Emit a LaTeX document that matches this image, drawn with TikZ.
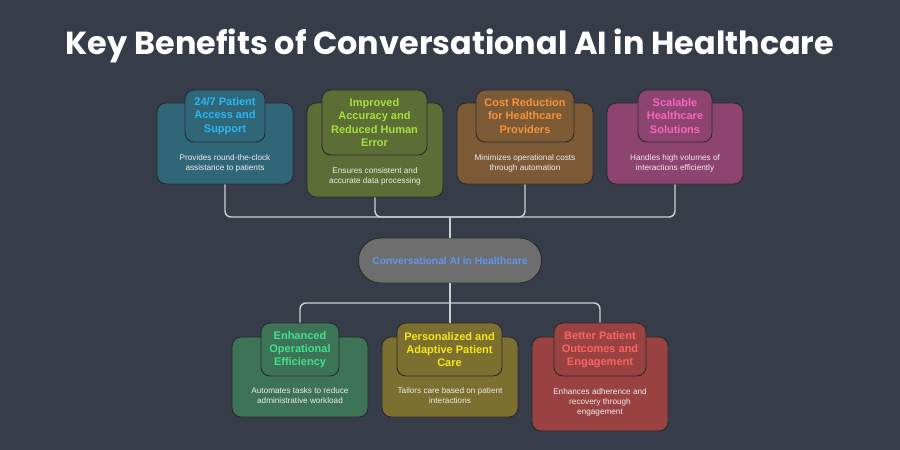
\documentclass[tikz,border=0pt]{standalone}
\usepackage{fontspec}
\setmainfont{Liberation Sans}
\newfontfamily\poppins{Poppins}
\definecolor{bg}{HTML}{373C49}
\definecolor{boxline}{HTML}{2A2A2E}
\definecolor{linecol}{HTML}{CFCFCF}
\definecolor{bodycol}{HTML}{EDEDED}
\definecolor{cA}{HTML}{306778}\definecolor{tA}{HTML}{2AB6F2}
\definecolor{cB}{HTML}{5D6D36}\definecolor{tB}{HTML}{A6E23E}
\definecolor{cC}{HTML}{7D5A36}\definecolor{tC}{HTML}{F6923A}
\definecolor{cD}{HTML}{8E4470}\definecolor{tD}{HTML}{F865BC}
\definecolor{cE}{HTML}{3D7357}\definecolor{tE}{HTML}{42E08E}
\definecolor{cF}{HTML}{7B7030}\definecolor{tF}{HTML}{F6E71C}
\definecolor{cG}{HTML}{9A4242}\definecolor{tG}{HTML}{F86464}
\definecolor{hubfill}{HTML}{6E6E6E}\definecolor{hubtext}{HTML}{5E97EC}
\begin{document}
\begin{tikzpicture}[x=1pt,y=-1pt,
  outerbox/.style={draw=boxline, line width=0.9pt, rounded corners=9pt, minimum width=136pt, inner sep=0pt},
  titlebox/.style={draw=boxline, line width=0.9pt, rounded corners=9pt, inner sep=0pt, align=center, font=\fontsize{11}{13.3}\selectfont\bfseries},
  bodytext/.style={align=center, text=bodycol, inner sep=0pt, font=\fontsize{8.2}{10}\selectfont},
  conn/.style={draw=linecol, line width=1.4pt, rounded corners=6pt}
]
\fill[bg] (0,0) rectangle (900,450);
\useasboundingbox (0,0) rectangle (900,450);

\node[anchor=base, text=white, font=\poppins\bfseries\fontsize{31.9}{36}\selectfont] (title) at (450,54) {Key Benefits of Conversational AI in Healthcare};

% hub
\node[draw=boxline, line width=0.9pt, fill=hubfill, rounded corners=22pt, minimum width=183pt, minimum height=45pt, inner sep=0pt, text=hubtext, font=\fontsize{10.3}{12}\selectfont\bfseries] (hub) at (450,260.5) {Conversational AI in Healthcare};

% top boxes
\node[outerbox, fill=cA, minimum height=81pt] (b1) at (225,143.5) {};
\node[titlebox, fill=cA, text=tA, minimum width=80pt, minimum height=52pt] (t1) at (225,116) {24/7 Patient\\Access and\\Support};
\node[bodytext] (d1) at (225,163) {Provides round-the-clock\\assistance to patients};

\node[outerbox, fill=cB, minimum height=94pt] (b2) at (375,150) {};
\node[titlebox, fill=cB, text=tB, minimum width=105pt, minimum height=65pt] (t2) at (374.5,122.5) {Improved\\Accuracy and\\Reduced Human\\Error};
\node[bodytext] (d2) at (375,176) {Ensures consistent and\\accurate data processing};

\node[outerbox, fill=cC, minimum height=81pt] (b3) at (525,143.5) {};
\node[titlebox, fill=cC, text=tC, minimum width=98pt, minimum height=52pt] (t3) at (525,116) {Cost Reduction\\for Healthcare\\Providers};
\node[bodytext] (d3) at (525,163) {Minimizes operational costs\\through automation};

\node[outerbox, fill=cD, minimum height=81pt] (b4) at (675,143.5) {};
\node[titlebox, fill=cD, text=tD, minimum width=74pt, minimum height=52pt] (t4) at (675,116) {Scalable\\Healthcare\\Solutions};
\node[bodytext] (d4) at (675,163) {Handles high volumes of\\interactions efficiently};

% bottom boxes
\node[outerbox, fill=cE, minimum height=80pt] (b5) at (300,377) {};
\node[titlebox, fill=cE, text=tE, minimum width=78pt, minimum height=53pt] (t5) at (300,349.5) {Enhanced\\Operational\\Efficiency};
\node[bodytext] (d5) at (300,396) {Automates tasks to reduce\\administrative workload};

\node[outerbox, fill=cF, minimum height=80pt] (b6) at (450,377) {};
\node[titlebox, fill=cF, text=tF, minimum width=105pt, minimum height=53pt] (t6) at (449.5,349.5) {Personalized and\\Adaptive Patient\\Care};
\node[bodytext] (d6) at (450,396) {Tailors care based on patient\\interactions};

\node[outerbox, fill=cG, minimum height=94pt] (b7) at (600,384) {};
\node[titlebox, fill=cG, text=tG, minimum width=92pt, minimum height=53pt] (t7) at (600,349.5) {Better Patient\\Outcomes and\\Engagement};
\node[bodytext] (d7) at (600,402) {Enhances adherence and\\recovery through\\engagement};

% connectors
\coordinate (jt) at (450,217);
\coordinate (jb) at (450,303);
\draw[conn] (b1.south) |- (jt);
\draw[conn] (b2.south) |- (jt);
\draw[conn] (b3.south) |- (jt);
\draw[conn] (b4.south) |- (jt);
\draw[conn] (jt) -- (hub.north);
\draw[conn] (hub.south) -- (t6.north -| hub.south);
\draw[conn] (jb) -| (t5.north);
\draw[conn] (jb) -| (t7.north);
\end{tikzpicture}
\end{document}
